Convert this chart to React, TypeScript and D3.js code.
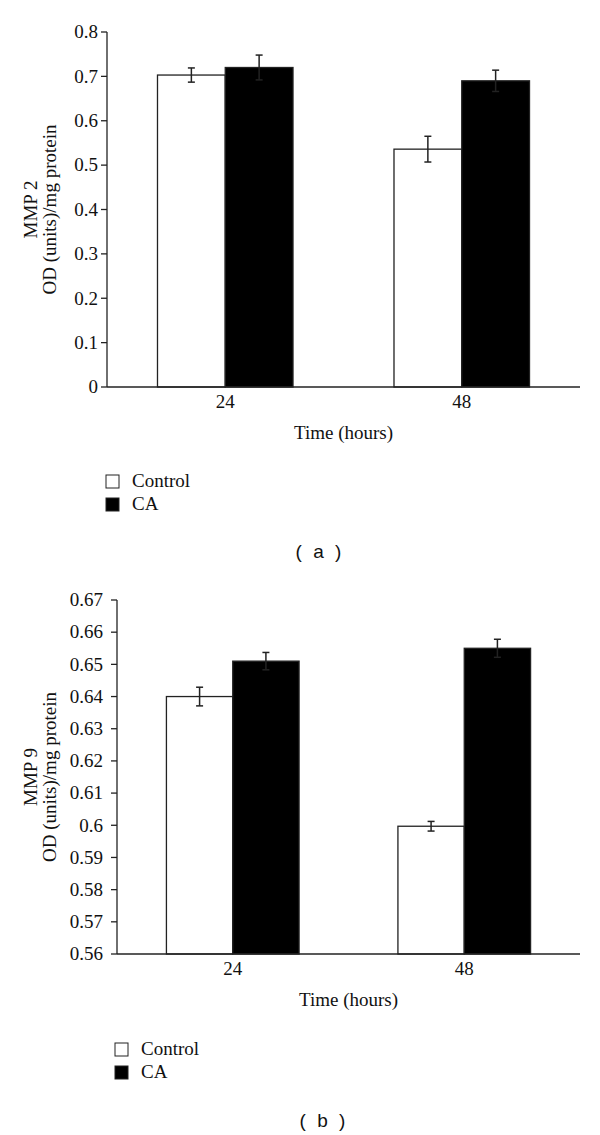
import React from "react";
import * as d3 from "d3";

const groups = ["24", "48"];
const seriesNames = ["Control", "CA"];
const seriesFill = ["#ffffff", "#000000"];

// MMP 2
const mmp2Control = [0.703, 0.536];
const mmp2ControlErr = [0.016, 0.029];
const mmp2CA = [0.72, 0.69];
const mmp2CAErr = [0.028, 0.024];
const mmp2Ticks = [0, 0.1, 0.2, 0.3, 0.4, 0.5, 0.6, 0.7, 0.8];
const mmp2TickLabels = ["0", "0.1", "0.2", "0.3", "0.4", "0.5", "0.6", "0.7", "0.8"];

// MMP 9
const mmp9Control = [0.64, 0.5997];
const mmp9ControlErr = [0.0029, 0.0015];
const mmp9CA = [0.651, 0.655];
const mmp9CAErr = [0.0027, 0.0028];
const mmp9Ticks = [0.56, 0.57, 0.58, 0.59, 0.6, 0.61, 0.62, 0.63, 0.64, 0.65, 0.66, 0.67];
const mmp9TickLabels = ["0.56", "0.57", "0.58", "0.59", "0.6", "0.61", "0.62", "0.63", "0.64", "0.65", "0.66", "0.67"];

const SERIF = "'Liberation Serif', 'Times New Roman', serif";
const SANS = "'Liberation Sans', Arial, sans-serif";
const FS = 19;

type ChartProps = {
  values: number[][];
  errors: number[][];
  ticks: number[];
  tickLabels: string[];
  domain: [number, number];
  left: number;
  right: number;
  top: number;
  bottom: number;
  labelGap: number;
  title: string;
  xLabelY: number;
  xTitleY: number;
  legendX: number;
  legendY: number;
  panelLabel: string;
  panelY: number;
  panelX: number;
};

function Chart(p: ChartProps) {
  const y = d3.scaleLinear().domain(p.domain).range([p.bottom, p.top]);
  const x0 = d3
    .scaleBand<string>()
    .domain(groups)
    .range([p.left, p.right])
    .paddingInner(0.427)
    .paddingOuter(0.2135);
  const x1 = d3
    .scaleBand<string>()
    .domain(seriesNames)
    .range([0, x0.bandwidth()])
    .padding(0);
  const midY = (p.top + p.bottom) / 2;
  return (
    <g>
      {groups.map((g, gi) =>
        seriesNames.map((s, si) => {
          const v = p.values[si][gi];
          const bx = (x0(g) as number) + (x1(s) as number);
          const by = y(v);
          return (
            <rect
              key={g + s}
              x={bx}
              y={by}
              width={x1.bandwidth()}
              height={p.bottom - by}
              fill={seriesFill[si]}
              stroke="#222"
              strokeWidth={1.3}
            />
          );
        })
      )}
      {groups.map((g, gi) =>
        seriesNames.map((s, si) => {
          const v = p.values[si][gi];
          const e = p.errors[si][gi];
          const cx = (x0(g) as number) + (x1(s) as number) + x1.bandwidth() / 2;
          const y1 = y(v + e);
          const y2 = y(v - e);
          return (
            <g key={"e" + g + s} stroke="#222" strokeWidth={1.5}>
              <line x1={cx} x2={cx} y1={y1} y2={y2} />
              <line x1={cx - 3.5} x2={cx + 3.5} y1={y1} y2={y1} />
              <line x1={cx - 3.5} x2={cx + 3.5} y1={y2} y2={y2} />
            </g>
          );
        })
      )}
      <line x1={p.left} x2={p.left} y1={y(p.domain[1])} y2={p.bottom} stroke="#222" strokeWidth={1.3} />
      <line x1={p.left} x2={p.right} y1={p.bottom} y2={p.bottom} stroke="#222" strokeWidth={1.3} />
      {p.ticks.map((t, i) => (
        <g key={"t" + i}>
          <line x1={p.left - 6} x2={p.left} y1={y(t)} y2={y(t)} stroke="#222" strokeWidth={1.3} />
          <text
            x={p.left - p.labelGap}
            y={y(t)}
            dy="0.33em"
            textAnchor="end"
            fontFamily={SERIF}
            fontSize={FS}
            fill="#111"
          >
            {p.tickLabels[i]}
          </text>
        </g>
      ))}
      {groups.map((g) => (
        <text
          key={"x" + g}
          x={(x0(g) as number) + x0.bandwidth() / 2}
          y={p.xLabelY}
          textAnchor="middle"
          fontFamily={SERIF}
          fontSize={FS}
          fill="#111"
        >
          {g}
        </text>
      ))}
      <text
        x={(p.left + p.right) / 2}
        y={p.xTitleY}
        textAnchor="middle"
        fontFamily={SERIF}
        fontSize={FS}
        fill="#111"
      >
        Time (hours)
      </text>
      <text
        transform={`translate(37,${midY}) rotate(-90)`}
        textAnchor="middle"
        fontFamily={SERIF}
        fontSize={FS}
        fill="#111"
      >
        {p.title}
      </text>
      <text
        transform={`translate(56,${midY}) rotate(-90)`}
        textAnchor="middle"
        fontFamily={SERIF}
        fontSize={FS}
        fill="#111"
      >
        OD (units)/mg protein
      </text>
      {seriesNames.map((s, si) => (
        <g key={"l" + s}>
          <rect
            x={p.legendX}
            y={p.legendY + si * 23}
            width={13}
            height={13}
            fill={seriesFill[si]}
            stroke="#222"
            strokeWidth={1}
          />
          <text
            x={p.legendX + 26}
            y={p.legendY + si * 23 + 12}
            fontFamily={SERIF}
            fontSize={FS}
            fill="#111"
          >
            {s}
          </text>
        </g>
      ))}
      <text
        x={p.panelX}
        y={p.panelY}
        textAnchor="middle"
        fontFamily={SANS}
        fontSize={19}
        letterSpacing={3}
        fill="#111"
        xmlSpace="preserve"
      >
        {p.panelLabel}
      </text>
    </g>
  );
}

export default function App() {
  return (
    <svg
      width={600}
      height={1135}
      style={{ position: "absolute", left: 0, top: 0, background: "#fff" }}
    >
      <rect width={600} height={1135} fill="#fff" />
      <Chart
        values={[mmp2Control, mmp2CA]}
        errors={[mmp2ControlErr, mmp2CAErr]}
        ticks={mmp2Ticks}
        tickLabels={mmp2TickLabels}
        domain={[0, 0.8]}
        left={107}
        right={580}
        top={32}
        bottom={387}
        labelGap={9}
        title="MMP 2"
        xLabelY={408}
        xTitleY={439}
        legendX={106}
        legendY={475}
        panelLabel="( a )"
        panelX={320}
        panelY={558}
      />
      <Chart
        values={[mmp9Control, mmp9CA]}
        errors={[mmp9ControlErr, mmp9CAErr]}
        ticks={mmp9Ticks}
        tickLabels={mmp9TickLabels}
        domain={[0.56, 0.67]}
        left={117}
        right={580}
        top={600}
        bottom={954}
        labelGap={14}
        title="MMP 9"
        xLabelY={975}
        xTitleY={1006}
        legendX={115}
        legendY={1043}
        panelLabel="( b )"
        panelX={324}
        panelY={1127}
      />
    </svg>
  );
}
